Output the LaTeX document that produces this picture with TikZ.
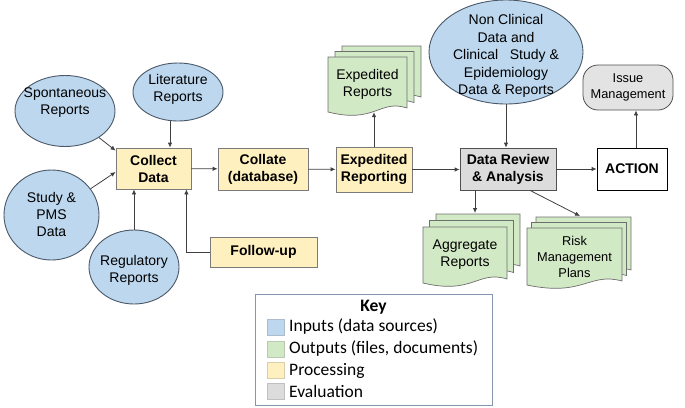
\documentclass[tikz,border=0pt]{standalone}
\usepackage{fontspec}
\setmainfont{Liberation Sans}
\newfontfamily\keyfont{Carlito}
\usetikzlibrary{shapes.geometric,arrows.meta,calc}
\definecolor{inblue}{HTML}{BDD7EE}
\definecolor{inborder}{HTML}{4A5868}
\definecolor{outgreen}{HTML}{D2E9C6}
\definecolor{outborder}{HTML}{6E6E6E}
\definecolor{procyel}{HTML}{FFF0BF}
\definecolor{procborder}{HTML}{7A7A7A}
\definecolor{evalgray}{HTML}{DCDCDC}
\definecolor{evalborder}{HTML}{505050}
\definecolor{linec}{HTML}{404040}
\definecolor{keyborder}{HTML}{8497B0}
\newcommand\docsheet[4]{\filldraw[outsheet] (#1,#2) -- ++(#3,0) -- ++(0,#4-4) .. controls +(-0.35*#3,-9) and +(0.6*#3,12) .. ++(-#3,4) -- cycle;}
\newcommand\docstack[6]{%
  \docsheet{#1+2*#5}{#2+2*#6}{#3}{#4}%
  \docsheet{#1+#5}{#2+#6}{#3}{#4}%
  \docsheet{#1}{#2}{#3}{#4}}
\begin{document}
\begin{tikzpicture}[x=1pt,y=-1pt,
  txt/.style={align=center,inner sep=0pt,font=\fontsize{14}{17}\selectfont},
  stxt/.style={align=center,inner sep=0pt,font=\fontsize{12.8}{16}\selectfont},
  inp/.style={ellipse,draw=inborder,fill=inblue,line width=0.9pt,inner sep=0pt},
  outsheet/.style={draw=outborder,fill=outgreen,line width=0.7pt},
  proc/.style={rectangle,draw=procborder,fill=procyel,line width=0.8pt,align=center,inner sep=0pt,font=\bfseries\fontsize{14}{17}\selectfont},
  evalbox/.style={rectangle,draw=evalborder,fill=evalgray,line width=0.8pt,align=center,inner sep=0pt,font=\bfseries\fontsize{14}{17}\selectfont},
  arr/.style={draw=linec,line width=0.8pt,-{Latex[length=5pt,width=4.5pt]}},
  keysq/.style={rectangle,draw=#1!70!gray,fill=#1,line width=0.5pt,minimum width=17pt,minimum height=16pt,inner sep=0pt},
  keytxt/.style={anchor=west,inner sep=0pt,font=\keyfont\fontsize{17.5}{20}\selectfont}
]
\useasboundingbox (0,0) rectangle (685,407);

% ---- inputs
\node[inp,minimum width=100pt,minimum height=71pt] (spont) at (65,111) {};
\node[txt] (spontT) at (65,103) {Spontaneous\\Reports};
\node[inp,minimum width=90pt,minimum height=58pt] (lit) at (178,92) {};
\node[txt] (litT) at (178,89) {Literature\\Reports};
\node[inp,minimum width=95pt,minimum height=90pt] (study) at (51.5,215) {};
\node[txt] (studyT) at (51.5,214) {Study \&\\PMS\\Data};
\node[inp,minimum width=90pt,minimum height=74pt] (reg) at (134,267) {};
\node[txt] (regT) at (134,270) {Regulatory\\Reports};
\node[inp,minimum width=154pt,minimum height=104pt] (nc) at (506,52) {};
\node[align=center,inner sep=0pt,font=\fontsize{14}{17.6}\selectfont] (ncT) at (506,56) {Non Clinical\\Data and\\Clinical~~ Study \&\\Epidemiology\\Data \& Reports};

% ---- processing
\node[proc,minimum width=75pt,minimum height=41pt] (collect) at (153.5,168.5) {Collect\\Data};
\node[proc,minimum width=90pt,minimum height=42pt] (collate) at (263,169) {Collate\\(database)};
\node[proc,minimum width=76pt,minimum height=45pt] (exprep) at (374,169.5) {Expedited\\Reporting};
\node[proc,minimum width=107pt,minimum height=30pt] (fu) at (263.5,252) {Follow-up};

% ---- evaluation
\node[evalbox,minimum width=96pt,minimum height=42pt] (dr) at (508,169) {Data Review\\\& Analysis};
\node[rectangle,draw=black,fill=white,line width=0.8pt,minimum width=70pt,minimum height=42pt,inner sep=0pt,font=\bfseries\fontsize{14}{17}\selectfont] (action) at (632,169) {ACTION};
\node[rectangle,rounded corners=15pt,draw=evalborder,fill=evalgray!80!white,line width=0.8pt,minimum width=90pt,minimum height=45pt,inner sep=0pt,align=center,font=\fontsize{12.8}{16}\selectfont] (issue) at (628,87.5) {Issue\\Management};

% ---- outputs (document stacks)
\docstack{328}{57}{79}{55}{7}{-5.5}
\node[txt,minimum width=79pt,minimum height=55pt] (expr) at (367.5,84.5) {Expedited\\Reports};
\docstack{423}{227}{84}{56}{6.5}{-6.5}
\node[txt,minimum width=84pt,minimum height=56pt] (agg) at (465,255) {Aggregate\\Reports};
\docstack{527}{228}{95}{57}{4.5}{-5.5}
\node[stxt,minimum width=95pt,minimum height=57pt] (risk) at (574.5,256.5) {Risk\\Management\\Plans};
\coordinate (aggtop) at (475,213);
\coordinate (risktop) at (580,216);
\coordinate (actup) at ($(action.north)+(4,0)$);
\coordinate (drout) at ($(dr.south)+(22,0)$);

% ---- connectors
\draw[arr] (spont) -- ($(collect.north west)+(0,3)$);
\draw[arr] (study) -- ($(collect.west)+(0,3.5)$);
\draw[arr] ($(lit.south)+(-8,0)$) -- ($(collect.north)+(16.5,0)$);
\draw[arr] (reg.north) -- (reg.north |- collect.south);
\draw[arr] (fu.west) -| ($(collect.south east)+(-5,0)$);
\draw[arr] (collect) -- (collate);
\draw[arr] (collate) -- (exprep);
\draw[arr] (exprep.north) -- (exprep.north |- expr.south);
\draw[arr] (exprep.east) -- (exprep.east -| dr.west);
\draw[arr] (nc.south) -- (nc.south |- dr.north);
\draw[arr] (dr) -- (action);
\draw[arr] (actup) -- (actup |- issue.south);
\draw[arr] (aggtop |- dr.south) -- (aggtop);
\draw[arr] (drout) -- (risktop);

% ---- key
\node[rectangle,draw=keyborder,fill=white,line width=0.8pt,minimum width=237pt,minimum height=111pt,inner sep=0pt] (key) at (373.5,349.5) {};
\node[inner sep=0pt,font=\keyfont\bfseries\fontsize{17.5}{20}\selectfont] (keyT) at (373.5,307) {Key};
\node[keysq=inblue] (k1) at (275.5,327) {};
\node[keysq=outgreen] (k2) at (275.5,349) {};
\node[keysq=procyel] (k3) at (275.5,370.5) {};
\node[keysq=evalgray] (k4) at (275.5,391.5) {};
\node[keytxt] (k1t) at (289,327) {Inputs (data sources)};
\node[keytxt] (k2t) at (289,349) {Outputs (files, documents)};
\node[keytxt] (k3t) at (289,370.5) {Processing};
\node[keytxt] (k4t) at (289,391.5) {Evaluation};
\end{tikzpicture}
\end{document}
